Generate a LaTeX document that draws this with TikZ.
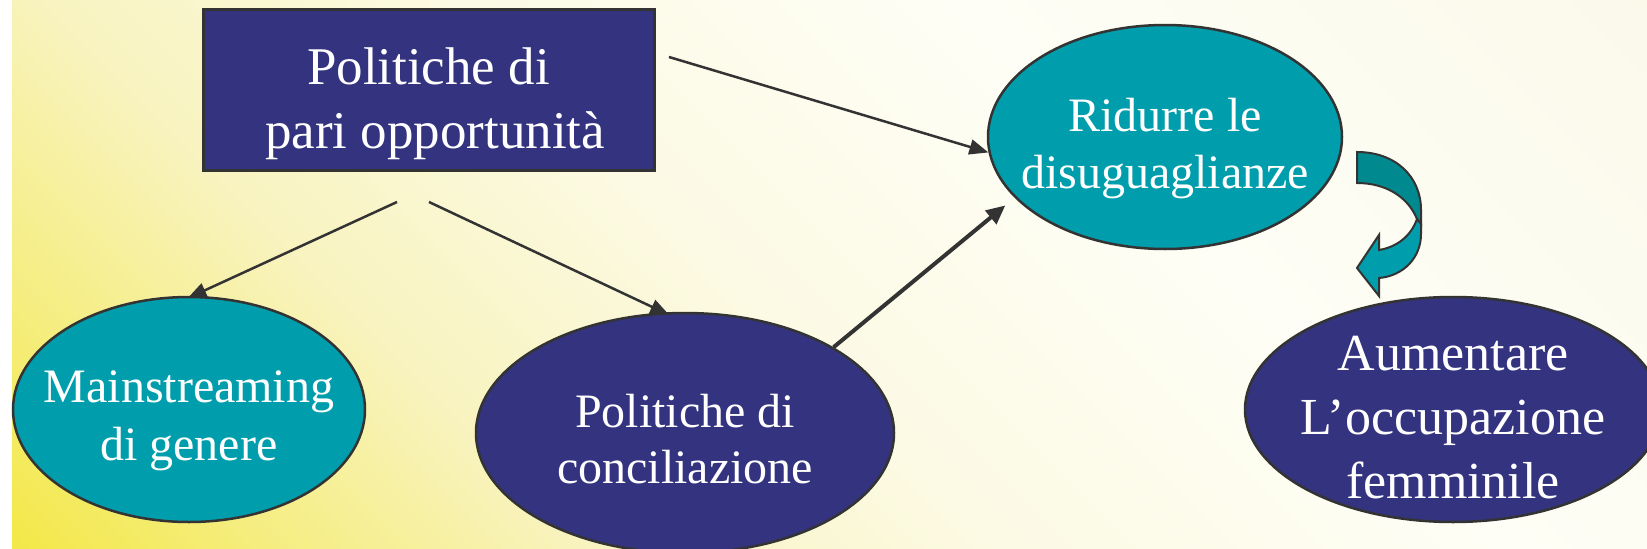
\documentclass[tikz,border=0pt]{standalone}
\usepackage{fontspec}
\setmainfont{Liberation Serif}
\usetikzlibrary{arrows.meta,shapes.geometric}
\definecolor{tealfill}{RGB}{0,158,173}
\definecolor{navyfill}{RGB}{51,51,128}
\definecolor{tealdark}{RGB}{0,138,143}
\definecolor{edgegray}{RGB}{51,51,51}
\pgfdeclareverticalshading{bgshade}{100bp}{rgb(0bp)=(0.953,0.91,0.275); rgb(14.6bp)=(0.953,0.91,0.275); rgb(20bp)=(0.961,0.929,0.49); rgb(27bp)=(0.973,0.953,0.745); rgb(36bp)=(0.988,0.98,0.894); rgb(47bp)=(0.996,0.996,0.965); rgb(62bp)=(0.984,0.976,0.918); rgb(100bp)=(0.984,0.976,0.918)}
\pgfdeclarelayer{bglayer}
\pgfdeclarelayer{arrlayer}
\pgfsetlayers{bglayer,arrlayer,main}
\newcommand\ztext[2]{\makebox[0pt]{\raisebox{-#1}[0pt][0pt]{\begin{tabular}{@{}c@{}}#2\end{tabular}}}}
\begin{document}
\begin{tikzpicture}[x=1pt,y=-1pt,
  blob/.style={ellipse, draw=edgegray, line width=2.5pt, inner sep=0pt, text=white},
  tealblob/.style={blob, fill=tealfill},
  navyblob/.style={blob, fill=navyfill},
  conn/.style={draw=edgegray, line width=2.5pt, -{Triangle[length=19pt,width=15pt]}},
  connthick/.style={draw=edgegray, line width=4pt, -{Triangle[length=19pt,width=17pt]}},
  bendarrow/.style={draw=edgegray, line width=2pt, line join=miter}
]
\useasboundingbox (0,0) rectangle (1647,549);
\begin{pgfonlayer}{bglayer}
\fill[white] (0,0) rectangle (1647,549);
\begin{scope}
\clip (12,0) rectangle (1647,549);
\shade[shading=bgshade, shading angle=-45] (0,549) rectangle (1647,-1098);
\end{scope}
\end{pgfonlayer}

\node[draw=edgegray, line width=3pt, fill=navyfill, text=white, minimum width=451pt, minimum height=161pt, inner sep=0pt, font=\fontsize{53}{64}\selectfont] (pol) at (428.5,89.5) {\ztext{20.5pt}{Politiche di\\\hspace{0.25em}pari opportunità}};

\node[tealblob, minimum width=352pt, minimum height=225pt, font=\fontsize{48}{58}\selectfont] (ms) at (189,409.5) {\ztext{17pt}{Mainstreaming\\di genere}};

\node[navyblob, minimum width=418pt, minimum height=240pt, font=\fontsize{48}{56}\selectfont] (conc) at (685,433) {\ztext{18pt}{Politiche di\hspace{0.25em}\\conciliazione}};

\node[tealblob, minimum width=354pt, minimum height=224pt, font=\fontsize{48}{57}\selectfont] (rid) at (1165,137) {\ztext{18pt}{Ridurre le\hspace{0.25em}\\disuguaglianze}};

\node[navyblob, minimum width=416pt, minimum height=225pt, font=\fontsize{52}{64}\selectfont] (aum) at (1453,409.5) {\ztext{18.7pt}{Aumentare\\L’occupazione\\femminile}};

\coordinate (s1) at (397,202);
\coordinate (s2) at (429,202);
\coordinate (s3) at (669,57);

\begin{pgfonlayer}{arrlayer}
\draw[conn, shorten >=-6pt] (s1) -- (ms.88);
\draw[conn, shorten >=-6pt] (s2) -- (conc.100);
\end{pgfonlayer}
\draw[conn] (s3) -- (rid.185);
\draw[connthick, shorten >=12pt] (conc.30) -- (rid.202);

\filldraw[bendarrow, fill=tealdark] (1357,152) .. controls (1396,152) and (1421,177) .. (1421,210) -- (1421,224) -- (1417,219) .. controls (1408,197) and (1386,183) .. (1357,183) -- cycle;
\filldraw[bendarrow, fill=tealfill] (1417,219) -- (1421,224) -- (1421,234) .. controls (1421,258) and (1403,276) .. (1379,278) -- (1379,296) -- (1357,268) -- (1379,235) -- (1379,250) .. controls (1397,247) and (1411,236) .. (1417,219) -- cycle;
\end{tikzpicture}
\end{document}
